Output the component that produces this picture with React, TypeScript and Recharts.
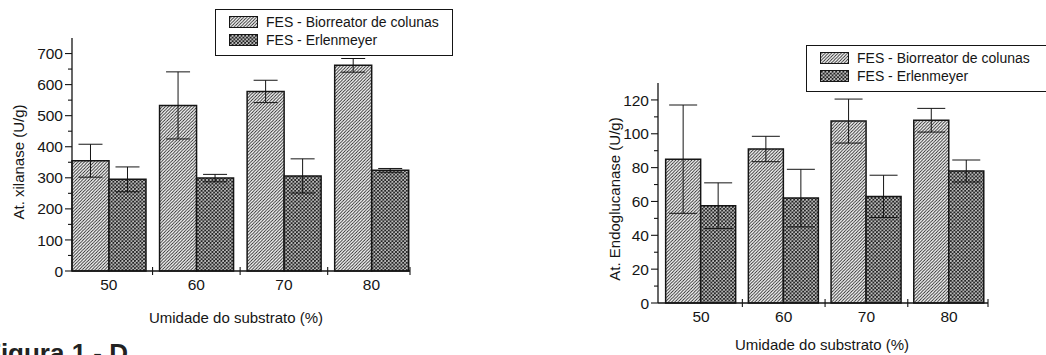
import React from "react"
import { BarChart, Bar, XAxis, YAxis, ErrorBar } from "recharts"

// Umidade do substrato (%)
const humidity = [50, 60, 70, 80]

// Xilanase (U/g)
const xilBio = [355, 533, 578, 662]
const xilBioErr = [53, 108, 36, 22]
const xilErl = [295, 299, 306, 324]
const xilErlErr = [40, 12, 55, 6]

// Endoglucanase (U/g)
const endoBio = [85, 91, 107.5, 108]
const endoBioErr = [32, 7.5, 13, 7]
const endoErl = [57.5, 62, 63, 78]
const endoErlErr = [13.5, 17, 12.5, 6.5]

const xilYTicks = [0, 50, 100, 150, 200, 250, 300, 350, 400, 450, 500, 550, 600, 650, 700]
const endoYTicks = [0, 10, 20, 30, 40, 50, 60, 70, 80, 90, 100, 110, 120]

const FONT = "'Liberation Sans', Arial, Helvetica, sans-serif"
const INK = "#151515"

const legendLabels = ["FES - Biorreator de colunas", "FES - Erlenmeyer"]

function buildRows(bio: number[], bioErr: number[], erl: number[], erlErr: number[]) {
  return humidity.map((h, i) => ({ h, bio: bio[i], bioErr: bioErr[i], erl: erl[i], erlErr: erlErr[i] }))
}

function Patterns() {
  return (
    <svg width={0} height={0} style={{ position: "absolute" }}>
      <defs>
        <pattern id="hatch" width={3.2} height={3.2} patternUnits="userSpaceOnUse">
          <rect width={3.2} height={3.2} fill="#fff" />
          <path d="M-0.8,0.8 l1.6,-1.6 M0,3.2 l3.2,-3.2 M2.4,4 l1.6,-1.6" stroke="#1c1c1c" strokeWidth={0.9} />
        </pattern>
        <pattern id="cross" width={3.6} height={3.6} patternUnits="userSpaceOnUse">
          <rect width={3.6} height={3.6} fill="#fff" />
          <path d="M-0.9,0.9 l1.8,-1.8 M0,3.6 l3.6,-3.6 M2.7,4.5 l1.8,-1.8 M-0.9,2.7 l1.8,1.8 M0,0 l3.6,3.6 M2.7,-0.9 l1.8,1.8" stroke="#1c1c1c" strokeWidth={1.1} />
        </pattern>
      </defs>
    </svg>
  )
}

function makeYTick(major: number) {
  return (props: any) => {
    const { x, y, payload } = props
    const isMajor = payload.value % major === 0
    return (
      <g>
        <line x1={x - (isMajor ? 7 : 4)} x2={x} y1={y} y2={y} stroke={INK} strokeWidth={1.1} />
        {isMajor && (
          <text x={x - 9} y={y} dy="0.36em" textAnchor="end" fontSize={15.5} fontFamily={FONT} fill={INK}>
            {payload.value}
          </text>
        )}
      </g>
    )
  }
}

function XTick(props: any) {
  const { x, y, payload } = props
  if (humidity.includes(payload.value)) {
    return (
      <text x={x} y={y + 19} textAnchor="middle" fontSize={15.5} fontFamily={FONT} fill={INK}>
        {payload.value}
      </text>
    )
  }
  return <line x1={x} x2={x} y1={y - 4} y2={y + 4} stroke={INK} strokeWidth={1.1} />
}

function Legend({ left, top, width }: { left: number; top: number; width: number }) {
  return (
    <div style={{ position: "absolute", left, top, width, height: 47, border: `1.2px solid ${INK}`, boxSizing: "border-box", fontFamily: FONT, fontSize: 14, color: INK }}>
      {legendLabels.map((label, i) => (
        <div key={label} style={{ position: "absolute", left: 13, top: 4 + i * 18, display: "flex", alignItems: "center", whiteSpace: "nowrap" }}>
          <svg width={29} height={12} style={{ marginRight: 8 }}>
            <rect x={0.5} y={0.5} width={28} height={11} fill={i === 0 ? "url(#hatch)" : "url(#cross)"} stroke={INK} strokeWidth={1} />
          </svg>
          <span>{label}</span>
        </div>
      ))}
    </div>
  )
}

function Panel(props: {
  rows: any[]
  left: number
  width: number
  height: number
  top: number
  plotHeight: number
  yAxisWidth: number
  yMax: number
  yTicks: number[]
  major: number
  xMin: number
  xMax: number
  barSize: number
  cap: number
}) {
  const { rows, left, width, height, top, plotHeight, yAxisWidth, yMax, yTicks, major, xMin, xMax, barSize, cap } = props
  const xTicks = [...humidity, 55, 65, 75, xMax]
  return (
    <div style={{ position: "absolute", left, top: 0 }}>
      <BarChart width={width} height={height} data={rows} margin={{ top, right: 12, bottom: 0, left: 0 }} barGap={0}>
        <XAxis
          dataKey="h"
          type="number"
          domain={[xMin, xMax]}
          ticks={xTicks}
          interval={0}
          height={height - top - plotHeight}
          tickSize={0}
          tickMargin={0}
          tickLine={false}
          tick={XTick}
          axisLine={{ stroke: INK, strokeWidth: 1.3 }}
        />
        <YAxis
          type="number"
          domain={[0, yMax]}
          ticks={yTicks}
          interval={0}
          width={yAxisWidth}
          tickSize={0}
          tickMargin={0}
          tickLine={false}
          tick={makeYTick(major)}
          axisLine={{ stroke: INK, strokeWidth: 1.3 }}
        />
        <Bar dataKey="bio" fill="url(#hatch)" stroke={INK} strokeWidth={1.5} barSize={barSize} isAnimationActive={false}>
          <ErrorBar dataKey="bioErr" width={cap} stroke={INK} strokeWidth={1} direction="y" />
        </Bar>
        <Bar dataKey="erl" fill="url(#cross)" stroke={INK} strokeWidth={1.5} barSize={barSize} isAnimationActive={false}>
          <ErrorBar dataKey="erlErr" width={cap} stroke={INK} strokeWidth={1} direction="y" />
        </Bar>
      </BarChart>
    </div>
  )
}

const titleStyle: React.CSSProperties = {
  position: "absolute",
  fontFamily: FONT,
  fontSize: 15,
  color: INK,
  whiteSpace: "nowrap",
  transform: "translate(-50%, -50%)",
}

export default function App() {
  const xilRows = buildRows(xilBio, xilBioErr, xilErl, xilErlErr)
  const endoRows = buildRows(endoBio, endoBioErr, endoErl, endoErlErr)

  return (
    <div style={{ position: "absolute", left: 0, top: 0, width: 1046, height: 355, overflow: "hidden", background: "#fff" }}>
      <Patterns />

      {/* xilanase */}
      <Panel
        rows={xilRows}
        left={0}
        width={422}
        height={300}
        top={38}
        plotHeight={233}
        yAxisWidth={72}
        yMax={750}
        yTicks={xilYTicks}
        major={100}
        xMin={45.8}
        xMax={84.4}
        barSize={37}
        cap={12}
      />
      <div style={{ ...titleStyle, left: 18, top: 162, transform: "translate(-50%, -50%) rotate(-90deg)" }}>At. xilanase (U/g)</div>
      <div style={{ ...titleStyle, left: 236, top: 317 }}>Umidade do substrato (%)</div>
      <Legend left={215} top={9} width={238} />

      {/* endoglucanase */}
      <Panel
        rows={endoRows}
        left={580}
        width={420}
        height={333}
        top={83}
        plotHeight={220}
        yAxisWidth={78}
        yMax={130}
        yTicks={endoYTicks}
        major={20}
        xMin={44.8}
        xMax={84.7}
        barSize={35}
        cap={14}
      />
      <div style={{ ...titleStyle, left: 614, top: 199, transform: "translate(-50%, -50%) rotate(-90deg)" }}>At. Endoglucanase (U/g)</div>
      <div style={{ ...titleStyle, left: 822, top: 344 }}>Umidade do substrato (%)</div>
      <Legend left={806} top={45} width={260} />

      <div style={{ position: "absolute", left: -15, top: 340, fontFamily: FONT, fontWeight: "bold", fontSize: 26, lineHeight: "26px", color: "#222", whiteSpace: "nowrap" }}>
        Figura 1 - D
      </div>
    </div>
  )
}
